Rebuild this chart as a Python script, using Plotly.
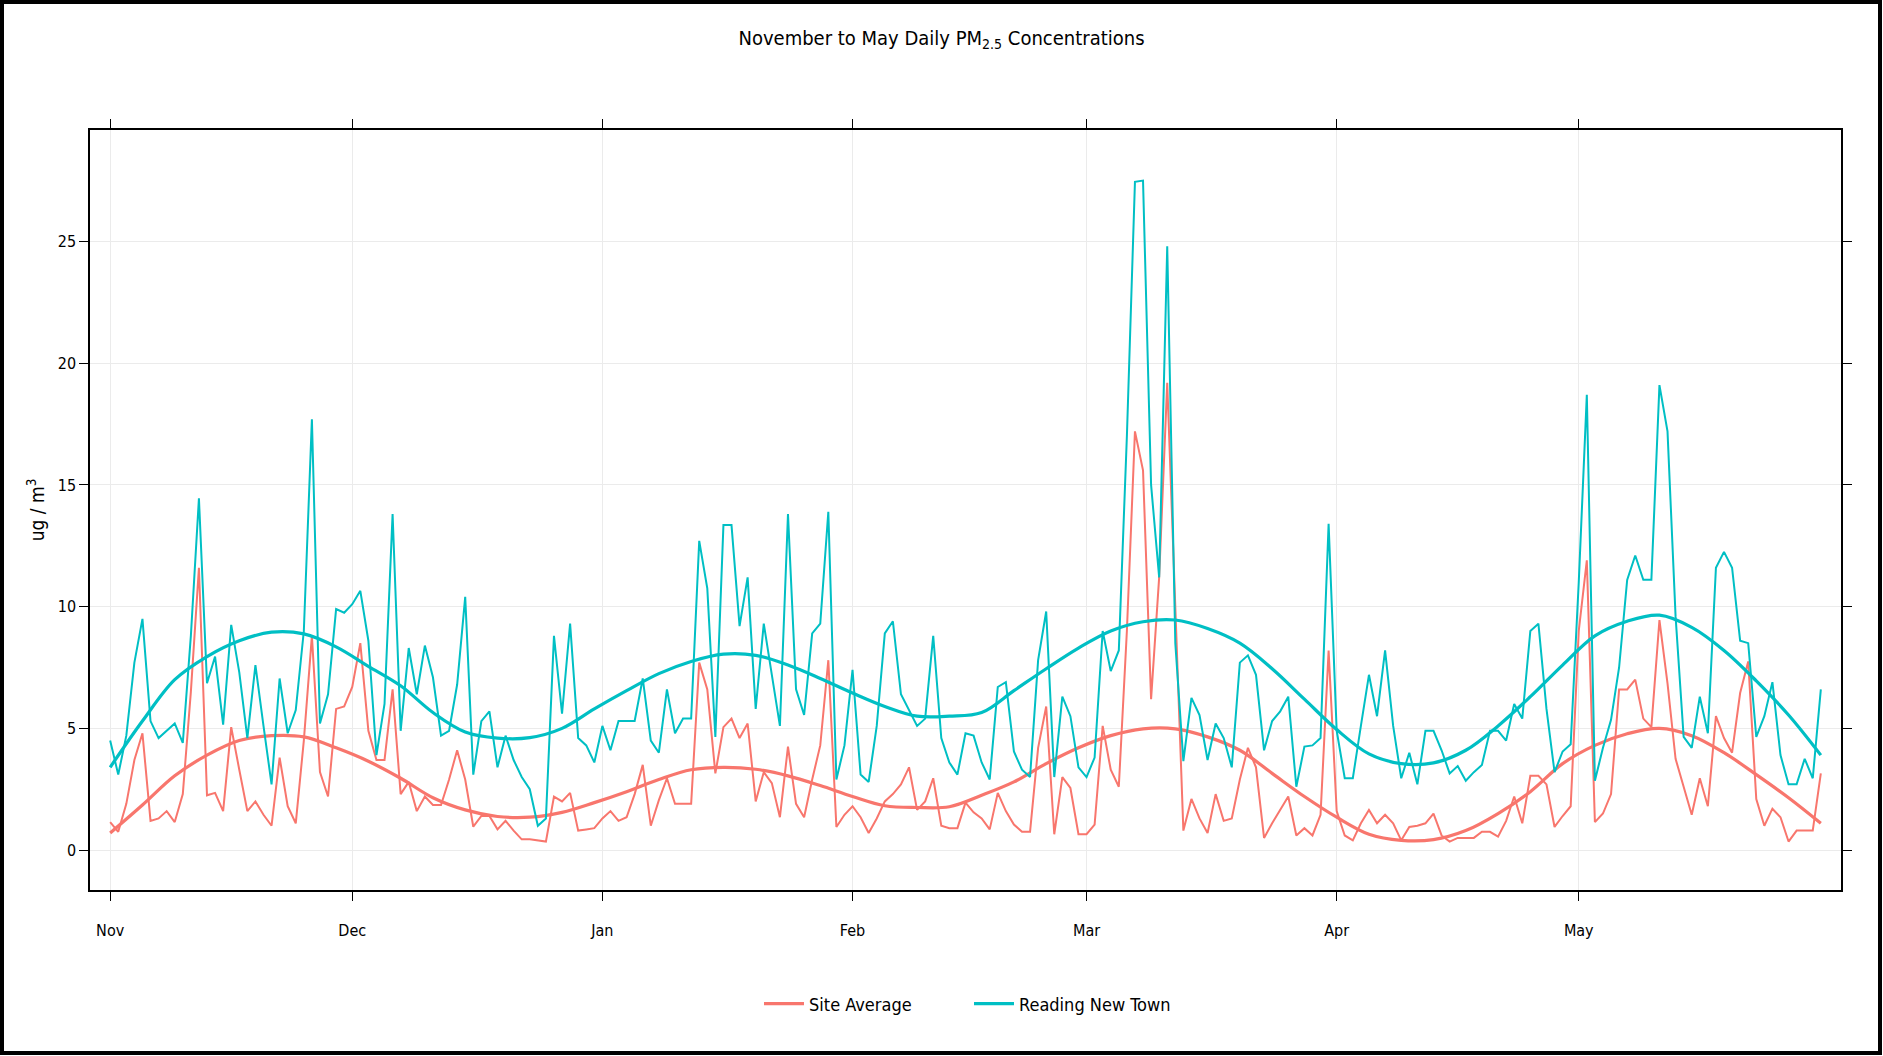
import pandas as pd
import plotly.graph_objects as go

# ---------------- data ----------------
start_date = "2019-11-01"

reading_new_town = [
    4.5, 3.1, 4.7, 7.7, 9.5, 5.3, 4.6, 4.9, 5.2, 4.4,
    8.8, 14.45, 6.85, 7.95, 5.15, 9.25, 7.3, 4.6, 7.6, 5.1,
    2.7, 7.05, 4.8, 5.75, 9.0, 17.7, 5.2, 6.4, 9.9, 9.75,
    10.1, 10.65, 8.6, 3.9, 6.0, 13.8, 4.9, 8.3, 6.4, 8.4,
    7.1, 4.7, 4.9, 6.8, 10.4, 3.1, 5.3, 5.7, 3.4, 4.7,
    3.7, 3.0, 2.5, 1.0, 1.3, 8.8, 5.6, 9.3, 4.6, 4.3,
    3.6, 5.1, 4.1, 5.3, 5.3, 5.3, 7.05, 4.5, 4.0, 6.6,
    4.8, 5.4, 5.4, 12.7, 10.75, 4.65, 13.35, 13.35, 9.2, 11.2,
    5.8, 9.3, 7.2, 5.1, 13.8, 6.6, 5.55, 8.9, 9.3, 13.9,
    2.9, 4.3, 7.4, 3.1, 2.8, 5.1, 8.9, 9.4, 6.4, 5.75,
    5.1, 5.4, 8.8, 4.6, 3.6, 3.1, 4.8, 4.7, 3.6, 2.9,
    6.7, 6.9, 4.05, 3.3, 3.0, 7.8, 9.8, 3.0, 6.3, 5.5,
    3.4, 3.0, 3.8, 9.0, 7.35, 8.2, 17.0, 27.45, 27.5, 15.0,
    11.2, 24.8, 8.5, 3.65, 6.25, 5.55, 3.7, 5.2, 4.6, 3.4,
    7.7, 8.0, 7.2, 4.1, 5.3, 5.7, 6.3, 2.6, 4.25, 4.3,
    4.6, 13.4, 4.9, 2.95, 2.95, 5.1, 7.2, 5.5, 8.2, 5.1,
    2.95, 4.0, 2.7, 4.9, 4.9, 4.1, 3.15, 3.45, 2.85, 3.2,
    3.5, 4.9, 4.9, 4.5, 6.0, 5.4, 9.0, 9.3, 5.8, 3.2,
    4.05, 4.35, 11.0, 18.7, 2.85, 4.2, 5.35, 7.5, 11.1, 12.1,
    11.1, 11.1, 19.1, 17.2, 9.6, 4.65, 4.2, 6.3, 4.8, 11.6,
    12.25, 11.6, 8.6, 8.5, 4.65, 5.5, 6.9, 3.9, 2.7, 2.7,
    3.75, 2.95, 6.6,
]

site_average = [
    1.15, 0.75, 1.9, 3.7, 4.8, 1.2, 1.3, 1.6, 1.15, 2.3,
    6.5, 11.6, 2.25, 2.35, 1.6, 5.05, 3.3, 1.6, 2.0, 1.45,
    1.0, 3.8, 1.8, 1.1, 4.5, 8.8, 3.2, 2.2, 5.8, 5.9,
    6.7, 8.5, 4.9, 3.7, 3.7, 6.6, 2.3, 2.8, 1.6, 2.2,
    1.85, 1.85, 2.9, 4.1, 2.9, 0.96, 1.4, 1.4, 0.85, 1.2,
    0.8, 0.44, 0.44, 0.4, 0.35, 2.2, 2.0, 2.35, 0.8, 0.85,
    0.9, 1.3, 1.6, 1.2, 1.35, 2.3, 3.5, 1.0, 2.05, 2.95,
    1.9, 1.9, 1.9, 7.7, 6.6, 3.15, 5.05, 5.4, 4.6, 5.2,
    2.0, 3.2, 2.75, 1.35, 4.25, 1.9, 1.35, 2.9, 4.3, 7.8,
    0.95, 1.45, 1.8, 1.35, 0.7, 1.3, 2.0, 2.3, 2.7, 3.4,
    1.65, 2.0, 2.95, 1.0, 0.9, 0.9, 1.95, 1.55, 1.3, 0.85,
    2.35, 1.6, 1.05, 0.75, 0.75, 4.2, 5.9, 0.65, 3.0, 2.55,
    0.65, 0.65, 1.05, 5.1, 3.3, 2.6, 9.0, 17.2, 15.6, 6.2,
    11.2, 19.2, 10.0, 0.8, 2.1, 1.3, 0.7, 2.3, 1.2, 1.3,
    2.9, 4.2, 3.4, 0.5, 1.1, 1.65, 2.2, 0.6, 0.9, 0.6,
    1.45, 8.2, 1.6, 0.6, 0.4, 1.1, 1.65, 1.1, 1.45, 1.1,
    0.4, 0.95, 1.0, 1.1, 1.5, 0.6, 0.35, 0.5, 0.5, 0.5,
    0.75, 0.75, 0.55, 1.2, 2.2, 1.1, 3.05, 3.05, 2.7, 0.95,
    1.4, 1.8, 9.0, 11.9, 1.15, 1.5, 2.3, 6.6, 6.6, 7.0,
    5.4, 5.05, 9.45, 6.85, 3.75, 2.6, 1.45, 2.95, 1.8, 5.5,
    4.6, 4.0, 6.45, 7.75, 2.1, 1.0, 1.7, 1.35, 0.35, 0.8,
    0.8, 0.8, 3.15,
]

# smooth trend curves (sampled every 4 days from Nov 1)
smooth_days = list(range(0, 213, 4))
smooth_reading = [
    3.4, 5.3, 7.0, 7.95, 8.6, 8.95, 8.88, 8.35, 7.55, 6.75,
    5.65, 4.85, 4.6, 4.62, 5.0, 5.8, 6.55, 7.25, 7.75, 8.05,
    8.0, 7.6, 7.05, 6.45, 5.9, 5.5, 5.5, 5.65, 6.55, 7.45,
    8.3, 9.0, 9.38, 9.45, 9.1, 8.5, 7.45, 6.2, 4.95, 3.95,
    3.55, 3.58, 4.1, 5.1, 6.3, 7.6, 8.8, 9.4, 9.65, 9.15,
    8.2, 6.95, 5.55, 3.9,
]
smooth_site = [
    0.7, 1.85, 3.05, 3.9, 4.5, 4.7, 4.65, 4.2, 3.65, 2.95,
    2.15, 1.65, 1.38, 1.35, 1.55, 1.95, 2.4, 2.9, 3.3, 3.4,
    3.32, 3.05, 2.65, 2.2, 1.82, 1.75, 1.78, 2.25, 2.8, 3.55,
    4.2, 4.7, 4.98, 4.98, 4.65, 4.1, 3.15, 2.2, 1.35, 0.65,
    0.4, 0.43, 0.8, 1.5, 2.4, 3.55, 4.3, 4.78, 5.0, 4.7,
    4.0, 3.1, 2.15, 1.1,
]

month_ticks = ["2019-11-01", "2019-12-01", "2020-01-01", "2020-02-01",
               "2020-03-01", "2020-04-01", "2020-05-01"]
month_labels = ["Nov", "Dec", "Jan", "Feb", "Mar", "Apr", "May"]

series_names = ["Site Average", "Reading New Town"]
colors = ["#F8766D", "#00BFC4"]

# ---------------- figure ----------------
dates = pd.date_range(start_date, periods=len(site_average), freq="D")
sdates = pd.Timestamp(start_date) + pd.to_timedelta(smooth_days, unit="D")

FONT = "Liberation Sans Narrow, Arial Narrow, DejaVu Sans Condensed, Liberation Sans, sans-serif"

fig = go.Figure()
for name, col, raw, sm in [
    (series_names[0], colors[0], site_average, smooth_site),
    (series_names[1], colors[1], reading_new_town, smooth_reading),
]:
    fig.add_trace(go.Scatter(x=dates, y=raw, mode="lines", name=name,
                             line=dict(color=col, width=2),
                             showlegend=False, legendgroup=name))
    fig.add_trace(go.Scatter(x=sdates, y=sm, mode="lines", name=name,
                             line=dict(color=col, width=3.2, shape="spline", smoothing=1.0),
                             showlegend=True, legendgroup=name))

fig.update_layout(
    width=1883, height=1056,
    margin=dict(l=90, r=42, t=130, b=166),
    paper_bgcolor="white", plot_bgcolor="white",
    font=dict(family=FONT, color="black"),
    title=dict(text="November to May Daily PM<sub>2.5</sub> Concentrations",
               x=0.5, xref="container", xanchor="center",
               y=1 - 38 / 1056, yref="container", yanchor="middle",
               font=dict(size=20, family=FONT, color="black")),
    legend=dict(orientation="h", x=0.502, xanchor="center", y=-0.15, yanchor="middle",
                font=dict(size=18, family=FONT, color="black"),
                itemwidth=40, entrywidth=155, traceorder="normal",
                bgcolor="rgba(0,0,0,0)"),
    showlegend=True,
)

fig.update_xaxes(
    type="date",
    range=["2019-10-29 12:00", "2020-06-02 12:00"],
    tickvals=month_ticks, ticktext=month_labels,
    showgrid=True, gridcolor="#EBEBEB", gridwidth=1,
    showline=True, linecolor="black", linewidth=1.5, mirror="allticks",
    ticks="outside", ticklen=9, tickcolor="black", tickwidth=1,
    tickfont=dict(size=16, family=FONT, color="black"),
    ticklabelstandoff=16, zeroline=False,
)
fig.update_yaxes(
    range=[-1.64, 29.58],
    tickvals=[0, 5, 10, 15, 20, 25],
    showgrid=True, gridcolor="#EBEBEB", gridwidth=1,
    showline=True, linecolor="black", linewidth=1.5, mirror="allticks",
    ticks="outside", ticklen=9, tickcolor="black", tickwidth=1,
    tickfont=dict(size=16, family=FONT, color="black"),
    zeroline=False,
    title=dict(text="ug / m<sup>3</sup>", font=dict(size=19, family=FONT, color="black"),
               standoff=8),
)

# outer black frame around the whole picture
fig.add_shape(type="rect", xref="paper", yref="paper",
              x0=(2 - 90) / 1751, x1=(1880 - 90) / 1751,
              y0=(890 - 1053) / 760, y1=(890 - 2) / 760,
              line=dict(color="black", width=4), fillcolor="rgba(0,0,0,0)",
              layer="above")

fig.write_html("out.html")
